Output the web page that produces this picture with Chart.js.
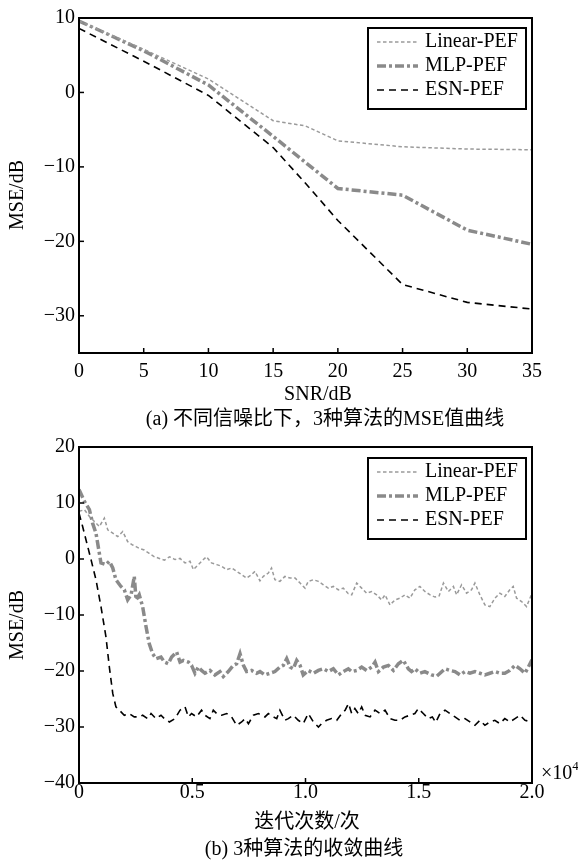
<!DOCTYPE html>
<html>
<head>
<meta charset="utf-8">
<script src="https://cdn.jsdelivr.net/npm/chart.js@4/dist/chart.umd.min.js"></script>
<style>
  html, body { margin: 0; padding: 0; background: #fff; }
  body { width: 578px; height: 866px; position: relative; overflow: hidden; }
  canvas { position: absolute; left: 0; }
  #c1 { top: 0; }
  #c2 { top: 430px; }
</style>
</head>
<body>
<canvas id="c1" width="578" height="430"></canvas>
<canvas id="c2" width="578" height="436"></canvas>
<script>
// ---------- Data: (a) MSE vs SNR ----------
const snrDb = [0, 5, 10, 15, 17.5, 20, 25, 30, 35];
const mseLinearA = [9.6, 5.8, 1.8, -3.8, -4.5, -6.5, -7.3, -7.6, -7.7];
const mseMlpA    = [9.6, 5.6, 1.0, -5.9, -9.4, -12.9, -13.8, -18.5, -20.4];
const mseEsnA    = [8.6, 4.2, -0.4, -7.4, -12.2, -17.2, -25.8, -28.2, -29.1];
const snrTicks = [0, 5, 10, 15, 20, 25, 30, 35];
const mseTicksA = [-30, -20, -10, 0, 10];

// ---------- Data: (b) convergence curves (iterations in units of 1e4) ----------
const linIterX = [0,.024,.046,.068,.090,.112,.127,.149,.171,.193,.215,.237,.252,.266,.288,.31,.333,.355,.377,.40,.424,.446,.468,.49,.505,.527,.549,.563,.585,.608,.63,.652,.674,.696,.718,.74,.762,.777,.799,.814,.836,.85,.865,.887,.909,.932,.954,.976,.998,1.012,1.035,1.057,1.079,1.101,1.123,1.145,1.167,1.189,1.204,1.226,1.248,1.27,1.292,1.314,1.336,1.351,1.373,1.395,1.417,1.439,1.461,1.483,1.505,1.527,1.55,1.572,1.59,1.609,1.631,1.653,1.667,1.689,1.711,1.733,1.748,1.77,1.792,1.814,1.836,1.858,1.88,1.902,1.917,1.932,1.954,1.976,2.0];
const linMse = [8.5,8.8,7.6,6.7,5.8,7.3,5.2,4.6,4.0,4.9,3.1,2.5,2.2,1.9,1.6,1.0,0.4,0.1,-0.2,0.4,-0.1,0.1,-0.7,-0.4,-1.9,-1.0,-0.1,0.4,-0.7,-1.0,-1.3,-1.9,-1.6,-2.2,-2.8,-3.4,-2.8,-2.2,-3.9,-3.1,-2.5,-1.6,-3.7,-4.0,-3.1,-3.4,-3.4,-4.3,-5.2,-4.0,-3.7,-4.0,-4.6,-5.2,-4.9,-5.5,-5.2,-6.2,-6.4,-4.3,-5.2,-6.1,-5.8,-6.4,-7.3,-6.4,-8.2,-7.3,-7.0,-6.4,-7.0,-5.5,-4.9,-5.8,-6.4,-6.8,-6.6,-4.3,-5.8,-4.9,-6.4,-4.6,-6.1,-5.5,-4.3,-6.4,-8.2,-8.5,-7.0,-6.1,-6.7,-5.5,-4.9,-7.0,-7.6,-8.5,-6.1];

const mlpIterX = [0,.024,.046,.06,.075,.097,.119,.134,.149,.163,.185,.2,.215,.23,.244,.252,.266,.281,.296,.31,.325,.34,.362,.377,.394,.409,.431,.446,.461,.483,.497,.512,.527,.541,.556,.578,.6,.622,.637,.659,.681,.696,.711,.726,.74,.762,.784,.799,.821,.843,.865,.887,.902,.917,.932,.946,.961,.976,.99,1.012,1.035,1.057,1.079,1.101,1.123,1.145,1.167,1.189,1.204,1.226,1.248,1.27,1.292,1.307,1.322,1.344,1.366,1.388,1.41,1.432,1.454,1.468,1.483,1.505,1.527,1.557,1.58,1.616,1.638,1.66,1.682,1.704,1.726,1.748,1.77,1.792,1.814,1.836,1.858,1.88,1.902,1.925,1.947,1.969,1.984,2.0];
const mlpMse = [12.4,10.3,8.8,6.4,4.6,-0.7,-1.0,-0.4,-1.6,-3.7,-4.9,-5.5,-7.3,-6.4,-3.1,-7.3,-6.4,-8.5,-12.1,-15.1,-16.9,-17.8,-17.5,-18.4,-18.7,-17.5,-16.6,-18.4,-18.1,-18.4,-19.0,-20.4,-19.3,-19.9,-20.4,-19.9,-20.7,-20.1,-21.0,-20.1,-19.0,-18.7,-16.9,-19.0,-20.1,-19.9,-20.4,-20.1,-20.7,-20.4,-20.1,-19.3,-19.0,-17.8,-19.3,-19.6,-18.1,-19.0,-20.7,-19.9,-20.4,-19.9,-19.6,-20.1,-19.6,-20.7,-20.1,-19.6,-20.1,-19.9,-19.3,-19.9,-19.3,-18.4,-20.1,-19.3,-19.0,-19.9,-18.7,-18.1,-19.6,-20.1,-19.6,-20.4,-20.1,-20.7,-20.9,-19.6,-19.9,-20.1,-20.7,-20.1,-20.4,-20.1,-20.4,-20.7,-20.4,-20.1,-20.4,-20.4,-19.9,-19.0,-19.6,-20.4,-19.3,-18.0];

const esnIterX = [0,.016,.031,.053,.075,.097,.119,.134,.149,.163,.178,.2,.222,.244,.266,.281,.303,.318,.34,.362,.377,.399,.424,.446,.468,.483,.497,.519,.541,.556,.578,.593,.608,.63,.652,.674,.696,.718,.733,.748,.77,.792,.821,.836,.858,.873,.887,.909,.924,.946,.968,.99,1.012,1.035,1.057,1.071,1.093,1.115,1.138,1.16,1.175,1.19,1.204,1.218,1.233,1.248,1.263,1.285,1.307,1.329,1.351,1.373,1.395,1.417,1.439,1.461,1.483,1.498,1.52,1.542,1.56,1.575,1.594,1.616,1.638,1.66,1.682,1.704,1.726,1.748,1.77,1.792,1.814,1.836,1.858,1.88,1.902,1.925,1.947,1.969,2.0];
const esnMse = [8.2,5.8,3.4,-0.1,-3.7,-8.5,-13.9,-19.3,-24.0,-26.4,-27.0,-27.9,-27.6,-28.2,-28.2,-27.9,-28.5,-27.6,-28.5,-27.9,-28.5,-29.1,-28.5,-27.0,-26.4,-28.2,-27.6,-28.2,-27.0,-27.9,-28.5,-27.0,-27.6,-27.9,-27.6,-28.2,-29.7,-29.1,-28.5,-29.4,-27.9,-27.6,-28.2,-27.6,-28.2,-28.5,-27.0,-28.8,-28.5,-27.9,-28.8,-29.4,-27.6,-29.1,-30.0,-29.4,-28.8,-28.5,-28.8,-27.6,-27.0,-25.8,-27.6,-26.7,-27.6,-26.4,-27.9,-28.2,-27.0,-27.6,-27.0,-28.5,-28.8,-28.8,-28.2,-27.9,-27.6,-26.7,-27.6,-28.5,-28.2,-29.2,-27.6,-27.0,-27.6,-28.2,-28.8,-28.5,-29.1,-29.7,-28.8,-29.7,-29.1,-28.8,-29.4,-28.5,-29.1,-28.5,-27.9,-28.8,-29.1];
const iterTicks = [0, 0.5, 1.0, 1.5, 2.0];
const mseTicksB = [-40, -30, -20, -10, 0, 10, 20];

const seriesNames = ['Linear-PEF', 'MLP-PEF', 'ESN-PEF'];

// ---------- Styles ----------
const SERIF = '"Liberation Serif", "Times New Roman", serif';
const TXT = '"Liberation Serif", "Noto Sans CJK SC", serif';
const styles = [
  { borderColor: '#9a9a9a', borderWidth: 1.5, borderDash: [3.5, 2.5] },
  { borderColor: '#8a8a8a', borderWidth: 3.5, borderDash: [9, 3, 3, 3] },
  { borderColor: '#000000', borderWidth: 1.6, borderDash: [7, 5] }
];
const toPts = (xs, ys) => xs.slice(0, Math.min(xs.length, ys.length)).map((x, i) => ({ x: x, y: ys[i] }));
const fmtNum = v => (v < 0 ? '\u2212' + Math.abs(v) : String(v));

function decor(cfg) {
  return {
    id: 'decor',
    afterDatasetsDraw(chart) {
      const ctx = chart.ctx, a = chart.chartArea;
      const xs = chart.scales.x, ys = chart.scales.y;
      ctx.save();
      ctx.strokeStyle = '#000';
      ctx.setLineDash([]);
      // inward tick marks
      ctx.lineWidth = 1.5;
      xs.ticks.forEach(t => {
        const px = xs.getPixelForValue(t.value);
        if (px - a.left < 2 || a.right - px < 2) return;
        ctx.beginPath(); ctx.moveTo(px, a.bottom); ctx.lineTo(px, a.bottom - 5); ctx.stroke();
      });
      ys.ticks.forEach(t => {
        const py = ys.getPixelForValue(t.value);
        if (py - a.top < 2 || a.bottom - py < 2) return;
        ctx.beginPath(); ctx.moveTo(a.left, py); ctx.lineTo(a.left + 5, py); ctx.stroke();
      });
      // frame
      ctx.lineWidth = 2;
      ctx.strokeRect(a.left, a.top, a.right - a.left, a.bottom - a.top);
      // legend
      const lg = cfg.legend;
      ctx.fillStyle = '#fff';
      ctx.fillRect(lg.x, lg.y, lg.w, lg.h);
      ctx.lineWidth = 2;
      ctx.strokeRect(lg.x, lg.y, lg.w, lg.h);
      ctx.font = '20px ' + SERIF;
      ctx.textBaseline = 'middle';
      ctx.textAlign = 'left';
      chart.data.datasets.forEach((ds, i) => {
        const yy = lg.rows[i];
        ctx.save();
        ctx.strokeStyle = ds.borderColor;
        ctx.lineWidth = ds.borderWidth;
        ctx.setLineDash(ds.borderDash);
        ctx.beginPath(); ctx.moveTo(lg.lineX0, yy); ctx.lineTo(lg.lineX1, yy); ctx.stroke();
        ctx.restore();
        ctx.fillStyle = '#000';
        ctx.fillText(ds.label, lg.textX, yy);
      });
      ctx.restore();
    },
    afterDraw(chart) {
      const ctx = chart.ctx;
      ctx.save();
      ctx.fillStyle = '#000';
      ctx.textBaseline = 'middle';
      ctx.textAlign = 'center';
      ctx.font = '20px ' + TXT;
      // y title
      ctx.save();
      ctx.translate(cfg.yTitle.x, cfg.yTitle.y);
      ctx.rotate(-Math.PI / 2);
      ctx.fillText(cfg.yTitle.text, 0, 0);
      ctx.restore();
      // x title and caption
      ctx.fillText(cfg.xTitle.text, cfg.xTitle.x, cfg.xTitle.y);
      ctx.fillText(cfg.caption.text, cfg.caption.x, cfg.caption.y);
      if (cfg.exp) {
        ctx.textAlign = 'left';
        ctx.font = '20px ' + SERIF;
        ctx.fillText('\u00d710', cfg.exp.x, cfg.exp.y);
        const w = ctx.measureText('\u00d710').width;
        ctx.font = '13px ' + SERIF;
        ctx.fillText('4', cfg.exp.x + w, cfg.exp.y - 7);
      }
      ctx.restore();
    }
  };
}

const legendBox = { x: 368, y: 28, w: 158, h: 81, rows: [42, 66, 90], lineX0: 377, lineX1: 418, textX: 425 };

// ---------- Chart (a) ----------
new Chart(document.getElementById('c1'), {
  type: 'line',
  data: {
    datasets: [
      Object.assign({ label: seriesNames[0], data: toPts(snrDb, mseLinearA) }, styles[0]),
      Object.assign({ label: seriesNames[1], data: toPts(snrDb, mseMlpA) }, styles[1]),
      Object.assign({ label: seriesNames[2], data: toPts(snrDb, mseEsnA) }, styles[2])
    ]
  },
  options: {
    responsive: false, animation: false, devicePixelRatio: 1,
    layout: { padding: { left: 0, right: 46, top: 18, bottom: 0 } },
    elements: { point: { radius: 0 }, line: { tension: 0, fill: false } },
    plugins: { legend: { display: false }, tooltip: { enabled: false } },
    scales: {
      x: {
        type: 'linear', min: 0, max: 35,
        afterBuildTicks: s => { s.ticks = snrTicks.map(v => ({ value: v })); },
        afterFit: s => { s.height = 77; },
        grid: { display: false, drawTicks: false }, border: { display: false },
        ticks: { color: '#000', padding: 7, maxRotation: 0, autoSkip: false, font: { family: SERIF, size: 20 }, callback: v => fmtNum(v) }
      },
      y: {
        type: 'linear', min: -35, max: 10,
        afterBuildTicks: s => { s.ticks = mseTicksA.map(v => ({ value: v })); },
        afterFit: s => { s.width = 79; },
        grid: { display: false, drawTicks: false }, border: { display: false },
        ticks: { color: '#000', padding: 4, autoSkip: false, font: { family: SERIF, size: 20 }, callback: v => fmtNum(v) }
      }
    }
  },
  plugins: [decor({
    legend: legendBox,
    yTitle: { text: 'MSE/dB', x: 18, y: 195 },
    xTitle: { text: 'SNR/dB', x: 318, y: 395 },
    caption: { text: '(a) 不同信噪比下，3种算法的MSE值曲线', x: 325, y: 420 }
  })]
});

// ---------- Chart (b) ----------
new Chart(document.getElementById('c2'), {
  type: 'line',
  data: {
    datasets: [
      Object.assign({ label: seriesNames[0], data: toPts(linIterX, linMse) }, styles[0]),
      Object.assign({ label: seriesNames[1], data: toPts(mlpIterX, mlpMse) }, styles[1]),
      Object.assign({ label: seriesNames[2], data: toPts(esnIterX, esnMse) }, styles[2])
    ]
  },
  options: {
    responsive: false, animation: false, devicePixelRatio: 1,
    layout: { padding: { left: 0, right: 46, top: 17, bottom: 0 } },
    elements: { point: { radius: 0 }, line: { tension: 0, fill: false } },
    plugins: { legend: { display: false }, tooltip: { enabled: false } },
    scales: {
      x: {
        type: 'linear', min: 0, max: 2,
        afterBuildTicks: s => { s.ticks = iterTicks.map(v => ({ value: v })); },
        afterFit: s => { s.height = 83; },
        grid: { display: false, drawTicks: false }, border: { display: false },
        ticks: { color: '#000', padding: -2, maxRotation: 0, autoSkip: false, font: { family: SERIF, size: 20 },
                 callback: v => (v === 0 ? '0' : Number(v).toFixed(1)) }
      },
      y: {
        type: 'linear', min: -40, max: 20,
        afterBuildTicks: s => { s.ticks = mseTicksB.map(v => ({ value: v })); },
        afterFit: s => { s.width = 79; },
        grid: { display: false, drawTicks: false }, border: { display: false },
        ticks: { color: '#000', padding: 4, autoSkip: false, font: { family: SERIF, size: 20 }, callback: v => fmtNum(v) }
      }
    }
  },
  plugins: [decor({
    legend: legendBox,
    yTitle: { text: 'MSE/dB', x: 18, y: 195 },
    xTitle: { text: '迭代次数/次', x: 307, y: 393 },
    caption: { text: '(b) 3种算法的收敛曲线', x: 304, y: 420 },
    exp: { x: 541, y: 344 }
  })]
});
</script>
</body>
</html>
